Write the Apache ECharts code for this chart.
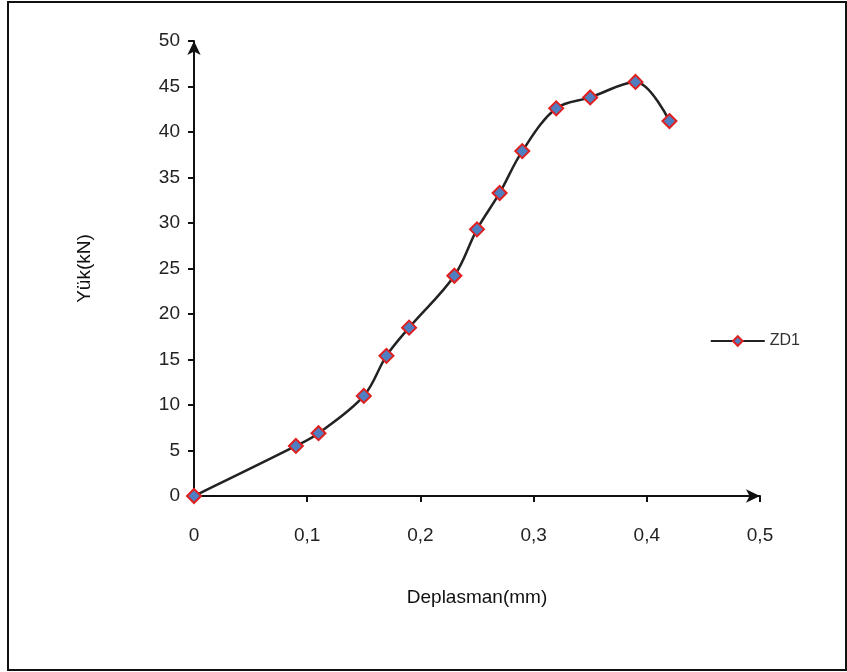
<!DOCTYPE html>
<html>
<head>
<meta charset="utf-8">
<script src="https://cdn.jsdelivr.net/npm/echarts@6/dist/echarts.min.js"></script>
<style>
  html, body { margin: 0; padding: 0; background: #fff; }
  #chart { width: 847px; height: 672px; }
</style>
</head>
<body>
<div id="chart"></div>
<script>
// displacement (mm) and load (kN)
const deplasman = [0, 0.09, 0.11, 0.15, 0.17, 0.19, 0.23, 0.25, 0.27, 0.29, 0.32, 0.35, 0.39, 0.42]
const yuk = [0, 5.5, 6.9, 11.0, 15.4, 18.5, 24.2, 29.3, 33.3, 37.9, 42.6, 43.8, 45.5, 41.2]
const seriesName = 'ZD1'

const chart = echarts.init(document.getElementById('chart'))
const font = 'Liberation Sans, Arial, sans-serif'

chart.setOption({
  animation: false,
  backgroundColor: '#fff',
  grid: { left: 194, right: 87, top: 41, bottom: 176 },
  graphic: [{
    type: 'rect',
    shape: { x: 8, y: 2, width: 838, height: 668 },
    style: { fill: 'none', stroke: '#111', lineWidth: 2 }
  }],
  legend: {
    right: 42,
    top: 328,
    itemWidth: 54,
    itemHeight: 12,
    itemGap: 6,
    textStyle: { fontFamily: font, fontSize: 16, color: '#333' },
    data: [seriesName]
  },
  xAxis: {
    type: 'value',
    min: 0, max: 0.5, interval: 0.1,
    name: 'Deplasman(mm)',
    nameLocation: 'middle',
    nameGap: 92,
    nameTextStyle: { fontFamily: font, fontSize: 19, color: '#111' },
    axisLine: { show: true, lineStyle: { color: '#111', width: 2 }, symbol: ['none', 'arrow'], symbolSize: [10, 14], symbolOffset: [0, 0] },
    axisTick: { show: true, length: 6, lineStyle: { color: '#111', width: 2 } },
    axisLabel: {
      fontFamily: font, fontSize: 19, color: '#222', margin: 30,
      formatter: v => String(v).replace('.', ',')
    },
    splitLine: { show: false }
  },
  yAxis: {
    type: 'value',
    min: 0, max: 50, interval: 5,
    name: 'Yük(kN)',
    nameLocation: 'middle',
    nameGap: 100,
    nameTextStyle: { fontFamily: font, fontSize: 19, color: '#111' },
    axisLine: { show: true, lineStyle: { color: '#111', width: 2 }, symbol: ['none', 'arrow'], symbolSize: [10, 14], symbolOffset: [0, 0] },
    axisTick: { show: true, length: 6, lineStyle: { color: '#111', width: 2 } },
    axisLabel: { fontFamily: font, fontSize: 19, color: '#222', margin: 14 },
    splitLine: { show: false }
  },
  series: [{
    name: seriesName,
    type: 'line',
    smooth: 0.35,
    data: deplasman.map((x, i) => [x, yuk[i]]),
    symbol: 'diamond',
    symbolSize: 14,
    lineStyle: { color: '#222', width: 2.5 },
    itemStyle: { color: '#4f7fc0', borderColor: '#e02020', borderWidth: 2 }
  }]
})
</script>
</body>
</html>
